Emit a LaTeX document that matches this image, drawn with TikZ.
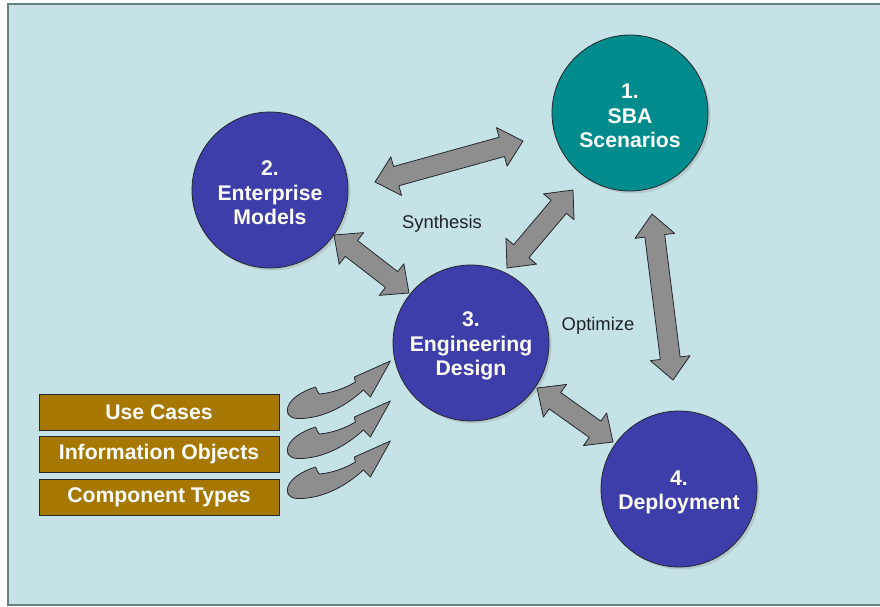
\documentclass[tikz,border=0pt]{standalone}
\usepackage{fontspec}
\setmainfont{Liberation Sans}
\usetikzlibrary{calc,shadows}
\definecolor{bgc}{RGB}{197,226,230}
\definecolor{bluec}{RGB}{62,62,170}
\definecolor{tealc}{RGB}{0,140,140}
\definecolor{boxc}{RGB}{166,120,0}
\definecolor{arrc}{RGB}{142,142,142}
\definecolor{edgec}{RGB}{35,40,45}
\definecolor{txtc}{RGB}{30,35,40}
\newcommand\hl{22pt}
\newcommand\hw{20pt}
\newcommand\sw{10pt}
\newcommand\myStrut{\rule{0pt}{21pt}}
\newcommand\dblarrow[2]{%
\draw[blockarr] (#1)
 -- ($($(#1)!\hl!(#2)$)!\hw!90:(#2)$)
 -- ($($(#1)!\hl!(#2)$)!\sw!90:(#2)$)
 -- ($($(#2)!\hl!(#1)$)!\sw!-90:(#1)$)
 -- ($($(#2)!\hl!(#1)$)!\hw!-90:(#1)$)
 -- (#2)
 -- ($($(#2)!\hl!(#1)$)!\hw!90:(#1)$)
 -- ($($(#2)!\hl!(#1)$)!\sw!90:(#1)$)
 -- ($($(#1)!\hl!(#2)$)!\sw!-90:(#2)$)
 -- ($($(#1)!\hl!(#2)$)!\hw!-90:(#2)$)
 -- cycle;}
\tikzset{
  blockarr/.style={fill=arrc, draw=edgec, line width=0.8pt, line join=round},
  stage/.style={circle, minimum size=156pt, inner sep=0pt, draw=edgec, line width=0.8pt,
    text=white, align=center, font=\bfseries\fontsize{21.2}{24.5}\selectfont,
    drop shadow={opacity=0.25, shadow xshift=2.5pt, shadow yshift=-2.5pt}},
  inbox/.style={rectangle, minimum width=240pt, minimum height=36pt, inner sep=0pt,
    fill=boxc, draw=edgec, line width=0.8pt, text=white, font=\bfseries\fontsize{21.2}{24}\selectfont},
  lbl/.style={text=txtc, font=\fontsize{18.4}{21}\selectfont},
  curvarrow/.pic={
    \draw[blockarr] (0,0) .. controls (0,-10) and (15,-19) .. (28,-23)
      .. controls (30,-20) and (30,-17) .. (32,-16)
      .. controls (45,-17) and (58,-22) .. (68,-28)
      -- (67,-33) -- (103,-49) -- (83,-13) -- (76,-20)
      .. controls (65,-10) and (45,5) .. (20,8)
      .. controls (5,10) and (0,7) .. (0,0) -- cycle;
  }
}
\begin{document}
\begin{tikzpicture}[x=1pt,y=-1pt]
\useasboundingbox (0,0) rectangle (880,607);
\fill[white] (0,0) rectangle (880,607);
\draw[fill=bgc, draw=gray!80!teal, line width=1.5pt] (8,4) rectangle (895,605);

\node[stage, fill=tealc] (n1) at (630,113) {\myStrut 1.\\SBA\\Scenarios};
\node[stage, fill=bluec] (n2) at (270,190) {\myStrut 2.\\Enterprise\\Models};
\node[stage, fill=bluec] (n3) at (471,343) {\myStrut 3.\\Engineering\\Design};
\node[stage, fill=bluec] (n4) at (679,489) {\myStrut 4.\\Deployment};

\node[lbl] (syn) at (442,224) {Synthesis};
\node[lbl] (opt) at (598,326) {Optimize};

\node[inbox] (b1) at (159,412) {Use Cases};
\node[inbox] (b2) at (159,454) {Information Objects};
\node[inbox] (b3) at (159,497) {Component Types};

\coordinate (a1s) at (375,182); \coordinate (a1e) at (523,141);
\coordinate (a2s) at (573,190); \coordinate (a2e) at (507,268);
\coordinate (a3s) at (334,235); \coordinate (a3e) at (409,293);
\coordinate (a4s) at (652,214); \coordinate (a4e) at (673,380);
\coordinate (a5s) at (537,388); \coordinate (a5e) at (613,442);
\dblarrow{a1s}{a1e}
\dblarrow{a2s}{a2e}
\dblarrow{a3s}{a3e}
\dblarrow{a4s}{a4e}
\dblarrow{a5s}{a5e}

\pic at ($(b1.east)+(8,-2)$) {curvarrow};
\pic at ($(b2.east)+(8,-4)$) {curvarrow};
\pic at ($(b3.east)+(8,-7)$) {curvarrow};
\end{tikzpicture}
\end{document}
